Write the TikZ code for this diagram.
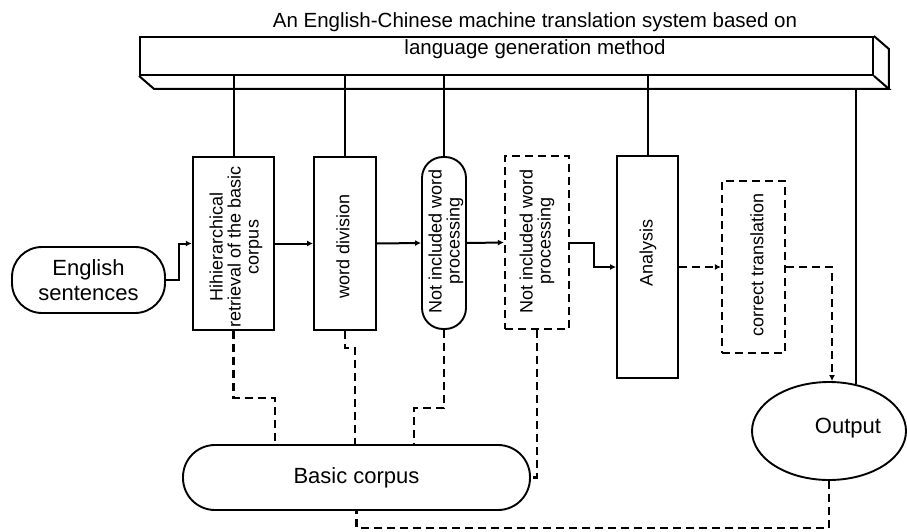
\documentclass[tikz,border=0pt]{standalone}
\usepackage{fontspec}
\setmainfont{Liberation Sans}
\usetikzlibrary{arrows.meta,calc,shapes.geometric}

\begin{document}
\begin{tikzpicture}[x=1pt,y=-1pt,
  box/.style={draw, line width=1.9pt, inner sep=0pt, fill=white},
  dbox/.style={box, line width=2.2pt, dash pattern=on 8pt off 5pt},
  vtext/.style={rotate=90, align=center, font=\fontsize{18}{18}\selectfont},
  big/.style={font=\fontsize{22}{25}\selectfont, align=center},
  link/.style={line width=2pt},
  dlink/.style={line width=2.4pt, dash pattern=on 8pt off 5pt},
  tip/.style={-{Latex[length=6pt,width=6pt]}}
]
\fill[white] (0,0) rectangle (907,532);
\useasboundingbox (0,0) rectangle (907,532);

% system bar drawn as a flat box seen slightly from below
\node[box, minimum width=733pt, minimum height=38pt] (bar) at (506.5,56) {};
\draw[link] (bar.south west) -- ++(15,13) coordinate (stripL)
  -- ($(bar.south east)+(15,13)$) coordinate (stripR) -- (bar.south east);
\draw[link] (bar.north east) -- ++(15,13) -- (stripR);
\node[align=center, font=\fontsize{20.5}{27}\selectfont] (title) at (535,36)
  {An English-Chinese machine translation system based on\\language generation method};

% processing stages
\node[box, rounded corners=30pt, minimum width=153pt, minimum height=66pt, big] (eng) at (88.5,280) {English\\sentences};
\node[box, line width=2.5pt, minimum width=81pt, minimum height=173pt] (b1) at (233.5,243.5) {};
\node[vtext] at (236,247) {Hihierarchical\\retrieval of the basic\\corpus};
\node[box, minimum width=62pt, minimum height=173pt] (wd) at (345,243.5) {};
\node[vtext] at (343,246) {word division};
\node[box, rounded corners=21pt, minimum width=44pt, minimum height=172pt] (pill) at (444,243) {};
\node[vtext] at (446,241) {Not included word\\processing};
\node[dbox, minimum width=64pt, minimum height=173pt] (niw) at (537,242.5) {};
\node[vtext] at (537,241) {Not included word\\processing};
\node[box, minimum width=61pt, minimum height=222pt] (an) at (647.5,267) {};
\node[vtext] at (648,253) {Analysis};
\node[dbox, minimum width=63pt, minimum height=172pt] (ct) at (753.5,267) {};
\node[vtext] at (757,265) {correct translation};
\node[box, shape=ellipse, minimum width=154pt, minimum height=98pt] (out) at (829,431) {};
\node[big] at (848,428) {Output};
\node[box, rounded corners=32pt, minimum width=347pt, minimum height=65pt, big] (corp) at (356.5,477.5) {Basic corpus};

% links from the system bar
\foreach \n in {b1,wd,pill,an} \draw[link] (\n.north |- bar.south) -- (\n.north);
\draw[link] (out.60 |- stripL) -- (out.60);

% main flow
\draw[link,tip] (eng.east) -- ++(13,0) |- (b1.west);
\draw[link,tip] (b1.east) -- (wd.west);
\draw[link,tip] (wd.east) -- (pill.west);
\draw[link,tip] (pill.east) -- (niw.west);
\draw[link,tip] (niw.east) -- ++(24,0) |- (an.west);
\draw[dlink,tip] (an.east) -- (ct.west);
\draw[dlink,tip] (ct.east) -| ([xshift=3pt]out.north);

% links to the basic corpus
\draw[dlink] (b1.south) -- ++(0,67) -| ([xshift=-81.5pt]corp.north);
\draw[dlink] (wd.south) -- ++(0,17) -| ([xshift=-1.5pt]corp.north);
\draw[dlink] (pill.south) -- ++(0,78) -| ([xshift=57.5pt]corp.north);
\draw[dlink] (niw.south) |- (corp.east);
\draw[dlink] (out.south) -- ++(0,47) -| (corp.south);
\end{tikzpicture}
\end{document}
